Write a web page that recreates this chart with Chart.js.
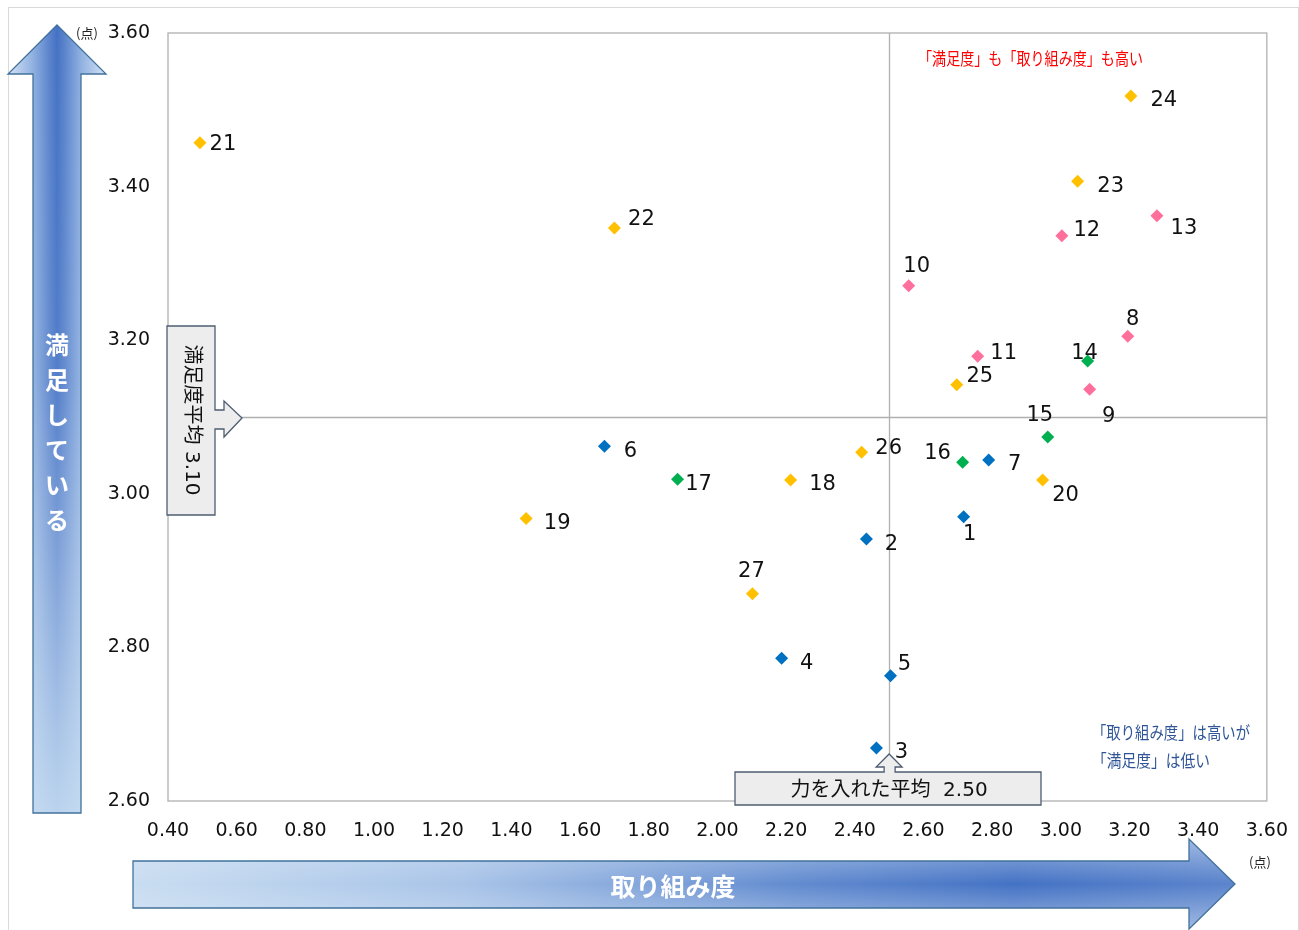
<!DOCTYPE html>
<html lang="ja">
<head>
<meta charset="utf-8">
<title>取り組み度と満足度</title>
<script src="https://cdn.jsdelivr.net/npm/chart.js@4/dist/chart.umd.min.js"></script>
<style>
  html, body { margin: 0; padding: 0; background: #fff; }
  canvas { display: block; }
</style>
</head>
<body>
<canvas id="scatterChart" width="1299" height="930"></canvas>
<script>
// データ（x = 取り組み度, y = 満足度）
const blueIds = ['1', '2', '3', '4', '5', '6', '7'];
const blueX = [2.717, 2.434, 2.463, 2.187, 2.504, 1.671, 2.790];
const blueY = [2.970, 2.941, 2.669, 2.786, 2.763, 3.062, 3.044];

const pinkIds = ['8', '9', '10', '11', '12', '13'];
const pinkX = [3.195, 3.084, 2.557, 2.758, 3.003, 3.280];
const pinkY = [3.205, 3.136, 3.271, 3.179, 3.336, 3.362];

const greenIds = ['14', '15', '16', '17'];
const greenX = [3.078, 2.962, 2.714, 1.884];
const greenY = [3.173, 3.074, 3.041, 3.019];

const orangeIds = ['18', '19', '20', '21', '22', '23', '24', '25', '26', '27'];
const orangeX = [2.213, 1.443, 2.947, 0.493, 1.700, 3.049, 3.204, 2.697, 2.420, 2.102];
const orangeY = [3.018, 2.968, 3.018, 3.457, 3.346, 3.407, 3.518, 3.142, 3.054, 2.870];

// 平均値
const effortMean = 2.50;
const satisfactionMean = 3.10;

// 目盛り
const xTicks = [0.4, 0.6, 0.8, 1.0, 1.2, 1.4, 1.6, 1.8, 2.0, 2.2, 2.4, 2.6, 2.8, 3.0, 3.2, 3.4, 3.6];
const yTicks = [2.6, 2.8, 3.0, 3.2, 3.4, 3.6];

const numFont = "'DejaVu Sans', 'Noto Sans CJK JP', sans-serif";
const jpFont = "'Noto Sans CJK JP', sans-serif";

// ラベルの位置（マーカーからのずれ）
const labelOffsets = {
    '1': [6, 16], '2': [25, 3], '3': [25, 3], '4': [25, 3], '5': [14, -13], '6': [26, 3], '7': [26, 3],
    '8': [5, -19], '9': [19, 25], '10': [8, -21], '11': [26, -5], '12': [25, -7], '13': [27, 11],
    '14': [-3, -9], '15': [-8, -23], '16': [-25, -11], '17': [21, 3],
    '18': [32, 3], '19': [31, 3], '20': [23, 14], '21': [23, 0], '22': [27, -11], '23': [33, 3],
    '24': [33, 3], '25': [23, -10], '26': [27, -6], '27': [-1, -24]
};

function toPoints(xs, ys) {
    return xs.map((x, i) => ({ x: x, y: ys[i] }));
}

function makeSet(ids, xs, ys, color) {
    return {
        ids: ids,
        data: toPoints(xs, ys),
        pointStyle: 'rectRot',
        pointRadius: 6.5,
        pointBackgroundColor: color,
        pointBorderColor: color,
        pointBorderWidth: 0,
        showLine: false
    };
}

function polygon(ctx, pts) {
    ctx.beginPath();
    pts.forEach((p, i) => i ? ctx.lineTo(p[0], p[1]) : ctx.moveTo(p[0], p[1]));
    ctx.closePath();
}

// 背景・枠・平均線
const backdropPlugin = {
    id: 'backdrop',
    beforeDraw(chart) {
        const ctx = chart.ctx;
        ctx.save();
        ctx.fillStyle = '#fff';
        ctx.fillRect(0, 0, chart.width, chart.height);
        ctx.strokeStyle = '#d9d9d9';
        ctx.lineWidth = 1;
        ctx.strokeRect(8.5, 7.5, 1290, 940);
        ctx.restore();
    },
    beforeDatasetsDraw(chart) {
        const ctx = chart.ctx;
        const a = chart.chartArea;
        const xs = chart.scales.x, ys = chart.scales.y;
        ctx.save();
        ctx.strokeStyle = '#b0b0b0';
        ctx.lineWidth = 1.3;
        ctx.strokeRect(a.left, a.top, a.right - a.left, a.bottom - a.top);
        const mx = Math.round(xs.getPixelForValue(effortMean)) + 0.5;
        const my = Math.round(ys.getPixelForValue(satisfactionMean)) + 0.5;
        ctx.beginPath();
        ctx.moveTo(mx, a.top);
        ctx.lineTo(mx, a.bottom);
        ctx.moveTo(a.left, my);
        ctx.lineTo(a.right, my);
        ctx.stroke();
        ctx.restore();
    }
};

// 番号ラベル・注記・矢印
const overlayPlugin = {
    id: 'overlay',
    afterDatasetsDraw(chart) {
        const ctx = chart.ctx;
        ctx.save();
        ctx.font = '21px ' + numFont;
        ctx.fillStyle = '#111';
        ctx.textAlign = 'center';
        ctx.textBaseline = 'middle';
        chart.data.datasets.forEach((ds, di) => {
            chart.getDatasetMeta(di).data.forEach((pt, i) => {
                const id = ds.ids[i];
                const off = labelOffsets[id] || [25, 0];
                ctx.fillText(id, pt.x + off[0], pt.y + off[1] + 2);
            });
        });

        // 満足度平均の吹き出し
        const my = chart.scales.y.getPixelForValue(satisfactionMean);
        polygon(ctx, [[167, 326], [215, 326], [215, my - 7], [224, my - 7], [224, my - 16], [242, my + 1],
            [224, my + 20], [224, my + 12], [215, my + 12], [215, 515], [167, 515]]);
        ctx.fillStyle = '#ededed';
        ctx.fill();
        ctx.strokeStyle = '#4f5d72';
        ctx.lineWidth = 1.3;
        ctx.stroke();
        ctx.save();
        ctx.translate(191, 420);
        ctx.rotate(Math.PI / 2);
        ctx.fillStyle = '#111';
        ctx.font = '20px ' + numFont;
        ctx.fillText('満足度平均 3.10', 0, 0);
        ctx.restore();

        // 力を入れた平均の吹き出し
        const mx = chart.scales.x.getPixelForValue(effortMean);
        polygon(ctx, [[735, 772], [mx - 5, 772], [mx - 5, 767], [mx - 13, 767], [mx, 754], [mx + 13, 767],
            [mx + 6, 767], [mx + 6, 772], [1041, 772], [1041, 805], [735, 805]]);
        ctx.fillStyle = '#ededed';
        ctx.fill();
        ctx.strokeStyle = '#4f5d72';
        ctx.stroke();
        ctx.fillStyle = '#111';
        ctx.font = '20px ' + numFont;
        ctx.fillText('力を入れた平均  2.50', 889, 791);

        // 象限の説明
        ctx.textAlign = 'left';
        ctx.font = '17px ' + jpFont;
        ctx.fillStyle = '#ff0000';
        ctx.fillText('「満足度」も「取り組み度」も高い', 918, 59, 225);
        ctx.fillStyle = '#2f5597';
        ctx.fillText('「取り組み度」は高いが', 1092, 733, 158);
        ctx.fillText('「満足度」は低い', 1092, 761, 118);

        // 単位
        ctx.fillStyle = '#222';
        ctx.font = '13px ' + jpFont;
        ctx.fillText('(点)', 76, 33);
        ctx.fillText('(点)', 1249, 862);
        ctx.restore();
    },
    afterDraw(chart) {
        const ctx = chart.ctx;
        ctx.save();

        // 縦の矢印（満足している）
        const vArrow = [[57, 25], [106, 74], [81, 74], [81, 813], [33, 813], [33, 74], [8, 74]];
        polygon(ctx, vArrow);
        let g = ctx.createLinearGradient(8, 0, 106, 0);
        g.addColorStop(0, '#d4e3f5');
        g.addColorStop(0.255, '#8fb0e0');
        g.addColorStop(0.42, '#5b84cc');
        g.addColorStop(0.5, '#4472c4');
        g.addColorStop(0.58, '#5b84cc');
        g.addColorStop(0.745, '#8fb0e0');
        g.addColorStop(1, '#d4e3f5');
        ctx.fillStyle = g;
        ctx.fill();
        g = ctx.createLinearGradient(0, 25, 0, 813);
        g.addColorStop(0, 'rgba(210,226,244,0)');
        g.addColorStop(0.45, 'rgba(210,226,244,0.1)');
        g.addColorStop(1, 'rgba(200,222,242,0.9)');
        ctx.fillStyle = g;
        ctx.fill();
        ctx.strokeStyle = '#41719c';
        ctx.lineWidth = 1.3;
        ctx.stroke();

        ctx.fillStyle = '#fff';
        ctx.font = 'bold 24px ' + jpFont;
        ctx.textAlign = 'center';
        ctx.textBaseline = 'middle';
        ['満', '足', 'し', 'て', 'い', 'る'].forEach((ch, i) => {
            ctx.fillText(ch, 57, 345 + i * 35);
        });

        // 横の矢印（取り組み度）
        const hArrow = [[133, 861], [1189, 861], [1189, 839], [1235, 884], [1189, 929], [1189, 908], [133, 908]];
        polygon(ctx, hArrow);
        g = ctx.createLinearGradient(133, 0, 1235, 0);
        g.addColorStop(0, '#c9ddf1');
        g.addColorStop(0.3, '#a9c4e8');
        g.addColorStop(0.6, '#628bcf');
        g.addColorStop(0.8, '#4472c4');
        g.addColorStop(1, '#5b84cc');
        ctx.fillStyle = g;
        ctx.fill();
        g = ctx.createLinearGradient(0, 839, 0, 929);
        g.addColorStop(0, 'rgba(220,232,246,0.55)');
        g.addColorStop(0.5, 'rgba(220,232,246,0)');
        g.addColorStop(1, 'rgba(220,232,246,0.55)');
        ctx.fillStyle = g;
        ctx.fill();
        ctx.strokeStyle = '#41719c';
        ctx.stroke();

        ctx.fillStyle = '#fff';
        ctx.font = 'bold 25px ' + jpFont;
        ctx.fillText('取り組み度', 673, 886);
        ctx.restore();
    }
};

const config = {
    type: 'scatter',
    data: {
        datasets: [
            makeSet(blueIds, blueX, blueY, '#0070c0'),
            makeSet(pinkIds, pinkX, pinkY, '#ff6f9c'),
            makeSet(greenIds, greenX, greenY, '#00b050'),
            makeSet(orangeIds, orangeX, orangeY, '#ffc000')
        ]
    },
    options: {
        responsive: false,
        animation: false,
        layout: { padding: { left: 0, top: 33, right: 28, bottom: 0 } },
        plugins: {
            legend: { display: false },
            tooltip: { enabled: false }
        },
        scales: {
            x: {
                type: 'linear',
                min: 0.4,
                max: 3.6,
                grid: { display: false },
                border: { display: false },
                afterBuildTicks: (scale) => { scale.ticks = xTicks.map(v => ({ value: v })); },
                afterFit: (scale) => { scale.height = 129; },
                ticks: {
                    padding: 11,
                    color: '#111',
                    font: { family: numFont, size: 19 },
                    callback: (v) => Number(v).toFixed(2)
                }
            },
            y: {
                type: 'linear',
                min: 2.6,
                max: 3.6,
                grid: { display: false },
                border: { display: false },
                afterBuildTicks: (scale) => { scale.ticks = yTicks.map(v => ({ value: v })); },
                afterFit: (scale) => { scale.width = 168; },
                ticks: {
                    padding: 10,
                    color: '#111',
                    font: { family: numFont, size: 19 },
                    callback: (v) => Number(v).toFixed(2)
                }
            }
        }
    },
    plugins: [backdropPlugin, overlayPlugin]
};

function initializeChart() {
    const ctx = document.getElementById('scatterChart').getContext('2d');
    new Chart(ctx, config);
}

document.addEventListener('DOMContentLoaded', initializeChart);
</script>
</body>
</html>
